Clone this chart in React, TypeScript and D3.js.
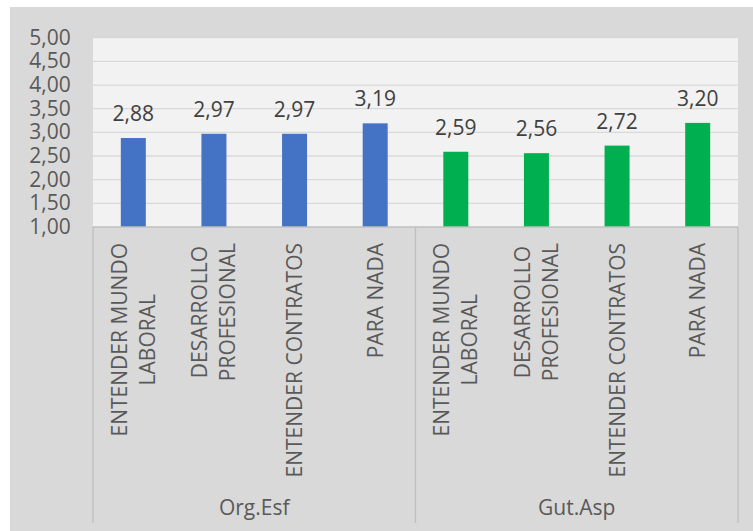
import { useEffect, useRef } from 'react'
import * as d3 from 'd3'

const W = 753
const H = 531

// plot frame (pixels)
const PLOT_LEFT = 93
const PLOT_RIGHT = 738
const PLOT_TOP = 37.7
const PLOT_BOTTOM = 227
const AXIS_BOTTOM = 523

const FONT = '"Open Sans", sans-serif'
const TEXT = '#595959'

const GROUPS = ['Org.Esf', 'Gut.Asp']
const CATEGORIES = [
  ['ENTENDER MUNDO', 'LABORAL'],
  ['DESARROLLO', 'PROFESIONAL'],
  ['ENTENDER CONTRATOS'],
  ['PARA NADA'],
]
const ORG_ESF = [2.88, 2.97, 2.97, 3.19]
const GUT_ASP = [2.59, 2.56, 2.72, 3.2]
const SERIES = [ORG_ESF, GUT_ASP]
const COLORS = ['#4472C4', '#00B050']
const Y_TICKS = [1, 1.5, 2, 2.5, 3, 3.5, 4, 4.5, 5]

const locale = d3.formatLocale({ decimal: ',', thousands: '.', grouping: [3], currency: ['', '€'] })
const fmt = locale.format('.2f')

export default function App() {
  const svgRef = useRef<SVGSVGElement>(null)

  useEffect(() => {
    if (!svgRef.current) return
    const svg = d3.select(svgRef.current)
    svg.selectAll('*').remove()

    // chart area background
    svg.append('rect').attr('x', 10).attr('y', 7).attr('width', W - 10).attr('height', H - 7).attr('fill', '#D9D9D9')
    svg.append('rect')
      .attr('x', PLOT_LEFT).attr('y', PLOT_TOP)
      .attr('width', PLOT_RIGHT - PLOT_LEFT).attr('height', PLOT_BOTTOM - PLOT_TOP)
      .attr('fill', '#F2F2F2')

    const y = d3.scaleLinear().domain([1, 5]).range([PLOT_BOTTOM, PLOT_TOP])

    const keys = GROUPS.flatMap((g) => CATEGORIES.map((_, i) => `${g}|${i}`))
    const x = d3.scaleBand<string>().domain(keys).range([PLOT_LEFT, PLOT_RIGHT])
      .paddingInner(0.69).paddingOuter(0.345)
    const xGroup = d3.scaleBand<string>().domain(GROUPS).range([PLOT_LEFT, PLOT_RIGHT])
    const step = x.step()

    // gridlines
    svg.append('g').selectAll('line')
      .data(Y_TICKS.slice(1))
      .join('line')
      .attr('x1', PLOT_LEFT).attr('x2', PLOT_RIGHT)
      .attr('y1', (d) => y(d)).attr('y2', (d) => y(d))
      .attr('stroke', '#D9D9D9').attr('stroke-width', 1.3)

    // y tick labels
    svg.append('g').selectAll('text')
      .data(Y_TICKS)
      .join('text')
      .attr('x', 70.7).attr('y', (d) => y(d) + 7)
      .attr('text-anchor', 'end')
      .attr('font-family', FONT).attr('font-size', 21).attr('fill', TEXT)
      .text((d) => fmt(d))

    // bars + labels
    GROUPS.forEach((g, gi) => {
      SERIES[gi].forEach((v, i) => {
        const k = `${g}|${i}`
        svg.append('rect')
          .attr('x', x(k)!).attr('width', x.bandwidth())
          .attr('y', y(v)).attr('height', y(1) - y(v))
          .attr('fill', COLORS[gi])
        svg.append('text')
          .attr('x', x(k)! + x.bandwidth() / 2).attr('y', y(v) - 17)
          .attr('text-anchor', 'middle')
          .attr('font-family', FONT).attr('font-size', 21).attr('fill', '#404040')
          .text(fmt(v))
      })
    })

    // category axis frame
    svg.append('line')
      .attr('x1', PLOT_LEFT).attr('x2', PLOT_RIGHT)
      .attr('y1', PLOT_BOTTOM).attr('y2', PLOT_BOTTOM)
      .attr('stroke', '#BFBFBF').attr('stroke-width', 1.3)
    const seps = [PLOT_LEFT, ...GROUPS.map((g) => xGroup(g)! + xGroup.bandwidth())]
    svg.append('g').selectAll('line')
      .data(seps)
      .join('line')
      .attr('x1', (d) => d).attr('x2', (d) => d)
      .attr('y1', PLOT_BOTTOM).attr('y2', AXIS_BOTTOM)
      .attr('stroke', '#BFBFBF').attr('stroke-width', 1.3)

    // rotated category labels
    GROUPS.forEach((g) => {
      CATEGORIES.forEach((lines, i) => {
        const cx = x(`${g}|${i}`)! + x.bandwidth() / 2
        const grp = svg.append('g')
        const texts = lines.map((line, li) =>
          grp.append('text')
            .attr('x', 0)
            .attr('y', (li - (lines.length - 1) / 2) * 28 + 7.5)
            .attr('text-anchor', 'middle')
            .attr('font-family', FONT).attr('font-size', 21).attr('fill', TEXT)
            .text(line),
        )
        const maxLen = d3.max(texts, (t) => (t.node() as SVGTextElement).getComputedTextLength()) ?? 0
        grp.attr('transform', `translate(${cx + step * 0},${243 + maxLen / 2}) rotate(-90)`)
      })
    })

    // group labels
    svg.append('g').selectAll('text')
      .data(GROUPS)
      .join('text')
      .attr('x', (d) => xGroup(d)! + xGroup.bandwidth() / 2)
      .attr('y', 515)
      .attr('text-anchor', 'middle')
      .attr('font-family', FONT).attr('font-size', 21).attr('fill', TEXT)
      .text((d) => d)
  }, [])

  return (
    <div style={{ position: 'fixed', left: 0, top: 0, background: '#fff' }}>
      <svg ref={svgRef} width={W} height={H} style={{ display: 'block' }} />
    </div>
  )
}
